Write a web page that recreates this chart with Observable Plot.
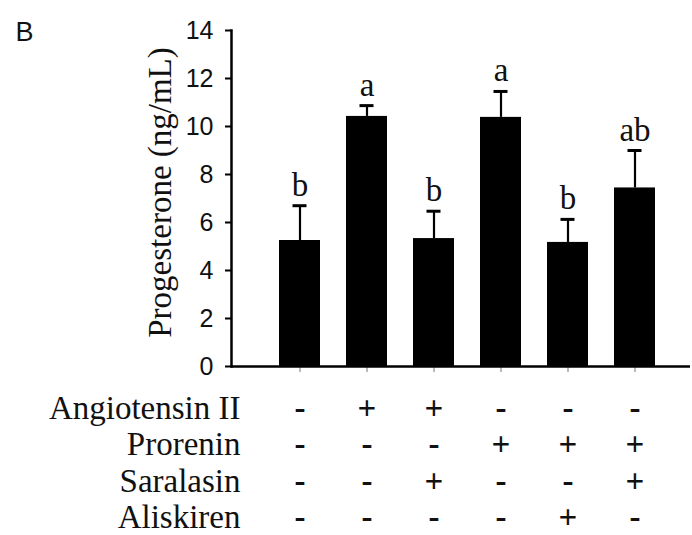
<!DOCTYPE html>
<html><head><meta charset="utf-8">
<script src="https://cdn.jsdelivr.net/npm/d3@7"></script>
<script src="https://cdn.jsdelivr.net/npm/@observablehq/plot@0.6"></script>
<style>body{margin:0;background:#fff}</style>
</head><body><div id="chart"></div>
<script>
const groups = ["G1","G2","G3","G4","G5","G6"];
const means = [5.25, 10.42, 5.33, 10.38, 5.17, 7.44];
const errors = [1.45, 0.45, 1.14, 1.08, 0.96, 1.56];
const letters = ["b","a","b","a","b","ab"];
const factors = ["Angiotensin II","Prorenin","Saralasin","Aliskiren"];
const angiotensin = ["-","+","+","-","-","-"];
const prorenin = ["-","-","-","+","+","+"];
const saralasin = ["-","-","+","-","-","+"];
const aliskiren = ["-","-","-","-","+","-"];
const yTicks = [0,2,4,6,8,10,12,14];
const yLabel = "Progesterone (ng/mL)";
const panel = "B";

const signs = [angiotensin, prorenin, saralasin, aliskiren];
const data = groups.map((g,i)=>({group:g, mean:means[i], top:means[i]+errors[i], letter:letters[i]}));

const serif = "Liberation Serif, Times New Roman, serif";
const sans = "Liberation Sans, Arial, sans-serif";

const tableMarks = factors.flatMap((f, r) => {
  const dy = 52 + r*36.5;
  return [
    Plot.text([f], {frameAnchor:"bottom-left", textAnchor:"end", lineAnchor:"bottom", dx:9, dy, fontFamily:serif, fontSize:33, fill:"#111"}),
    Plot.text(groups, {x:d=>d, text:(d,i)=>signs[r][i], frameAnchor:"bottom", lineAnchor:"bottom", dy, fontFamily:serif, fontSize:33, fontWeight:"bold", fill:"#111"})
  ];
});

const chart = Plot.plot({
  width: 692, height: 535,
  marginLeft: 231, marginRight: 2, marginTop: 30, marginBottom: 169,
  style: {background:"#fff", overflow:"visible"},
  x: {domain: groups, range: [265.4, 668.6], paddingInner: 0.39, paddingOuter: 0.195},
  y: {domain: [0,14]},
  marks: [
    Plot.barY(data, {x:"group", y:"mean", fill:"#000"}),
    Plot.ruleX(data, {x:"group", y1:"mean", y2:"top", stroke:"#000", strokeWidth:2.2}),
    Plot.tickY(data, {x:"group", y:"top", stroke:"#000", strokeWidth:3, insetLeft:13.5, insetRight:13.5}),
    Plot.text(data, {x:"group", y:"top", text:"letter", dy:-10, lineAnchor:"bottom", fontFamily:serif, fontSize:33, fill:"#111"}),
    Plot.axisY(yTicks, {tickSize:6, tickPadding:12, fontFamily:sans, fontSize:25, fill:"#111", strokeWidth:2, label:null}),
    Plot.axisX({tickSize:6, tickFormat:()=>"", label:null, stroke:"#777", strokeWidth:1}),
    Plot.frame({anchor:"left", strokeWidth:2.5}),
    Plot.ruleY([0], {strokeWidth:2.5}),
    Plot.text([yLabel], {frameAnchor:"left", textAnchor:"middle", rotate:-90, dx:-71, dy:-6, lineAnchor:"middle", fontFamily:serif, fontSize:33, fill:"#111"}),
    Plot.text([panel], {frameAnchor:"top-left", textAnchor:"start", lineAnchor:"bottom", dx:-216, dy:10, fontFamily:sans, fontSize:27, fill:"#111"}),
    ...tableMarks
  ]
});
document.getElementById("chart").appendChild(chart);
</script>
</body></html>
